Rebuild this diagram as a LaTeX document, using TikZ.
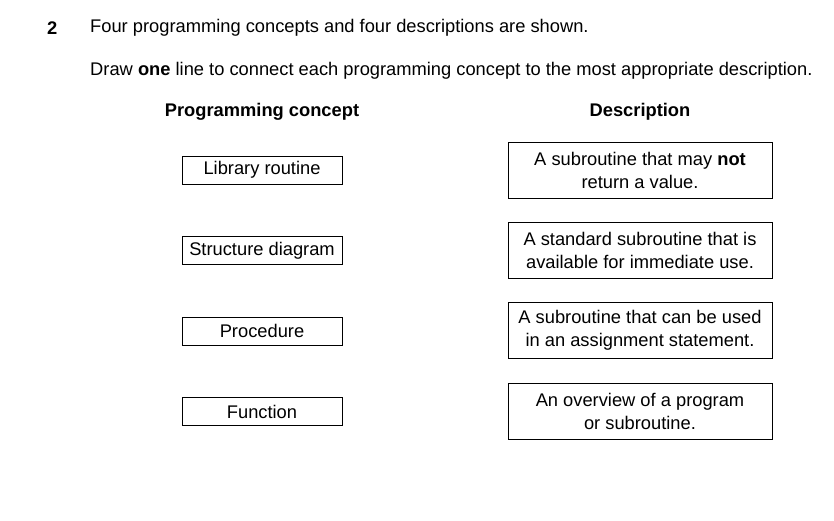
\documentclass[tikz,border=0pt]{standalone}
\usepackage{fontspec}
\setmainfont{Liberation Sans}
\begin{document}
\begin{tikzpicture}[x=1pt,y=-1pt,
  every node/.style={font=\fontsize{18.3}{22}\selectfont, inner sep=0pt},
  lbox/.style={draw, line width=0.8pt, minimum width=160pt, minimum height=28pt},
  rbox/.style={draw, line width=0.8pt, minimum width=264pt, minimum height=56pt, align=center, font=\fontsize{18.3}{23}\selectfont}]
\useasboundingbox (0,0) rectangle (834,520);
\node[anchor=west,font=\fontsize{18.3}{22}\selectfont\bfseries] (num) at (47,28) {2};
\node[anchor=west] (q1) at (90,28) {Four programming concepts and four descriptions are shown.};
\node[anchor=west] (q2) at (90,71) {Draw \textbf{one} line to connect each programming concept to the most appropriate description.};
\node[font=\fontsize{18.3}{22}\selectfont\bfseries] (h1) at (262,112) {Programming concept};
\node[font=\fontsize{18.3}{22}\selectfont\bfseries] (h2) at (640,112) {Description};
\node[lbox] (a) at (262,170) {Library routine};
\node[lbox] (b) at (262,250.5) {Structure diagram};
\node[lbox] (c) at (262,331) {Procedure};
\node[lbox] (d) at (262,411.5) {Function};
\node[rbox] (p) at (640,170) {A subroutine that may \textbf{not}\\return a value.};
\node[rbox] (q) at (640,250) {A standard subroutine that is\\available for immediate use.};
\node[rbox] (r) at (640,330.5) {A subroutine that can be used\\in an assignment statement.};
\node[rbox] (s) at (640,411) {An overview of a program\\or subroutine.};
\end{tikzpicture}
\end{document}
